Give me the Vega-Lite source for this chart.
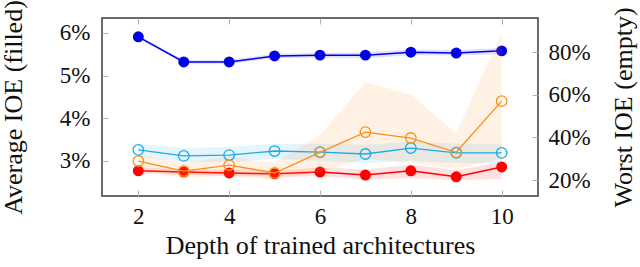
{
  "$schema": "https://vega.github.io/schema/vega-lite/v6.json",
  "autosize": {"type": "none"},
  "width": 436,
  "height": 178,
  "padding": {"left": 102, "top": 18, "right": 102, "bottom": 71},
  "background": "white",
  "config": {
    "view": {"stroke": "#3a3a3a", "strokeWidth": 1.5},
    "font": "Liberation Serif",
    "axis": {
      "grid": false,
      "domain": false,
      "labelFont": "Liberation Serif",
      "titleFont": "Liberation Serif",
      "labelFontSize": 23,
      "titleFontSize": 26,
      "titleFontWeight": "normal",
      "labelColor": "#111",
      "titleColor": "#111",
      "tickColor": "#b0b0b0",
      "tickWidth": 1,
      "tickSize": -6
    }
  },
  "datasets": {
    "d": [
      {"depth": 2, "series": "avgA", "v": 5.91, "lo": 5.87, "hi": 5.95},
      {"depth": 3, "series": "avgA", "v": 5.32, "lo": 5.28, "hi": 5.36},
      {"depth": 4, "series": "avgA", "v": 5.32, "lo": 5.28, "hi": 5.37},
      {"depth": 5, "series": "avgA", "v": 5.46, "lo": 5.41, "hi": 5.51},
      {"depth": 6, "series": "avgA", "v": 5.48, "lo": 5.42, "hi": 5.53},
      {"depth": 7, "series": "avgA", "v": 5.48, "lo": 5.41, "hi": 5.55},
      {"depth": 8, "series": "avgA", "v": 5.55, "lo": 5.48, "hi": 5.61},
      {"depth": 9, "series": "avgA", "v": 5.53, "lo": 5.47, "hi": 5.6},
      {"depth": 10, "series": "avgA", "v": 5.58, "lo": 5.5, "hi": 5.65},
      {"depth": 2, "series": "avgB", "v": 2.77, "lo": 2.71, "hi": 2.84},
      {"depth": 3, "series": "avgB", "v": 2.74, "lo": 2.68, "hi": 2.81},
      {"depth": 4, "series": "avgB", "v": 2.72, "lo": 2.65, "hi": 2.8},
      {"depth": 5, "series": "avgB", "v": 2.7, "lo": 2.63, "hi": 2.78},
      {"depth": 6, "series": "avgB", "v": 2.74, "lo": 2.64, "hi": 2.85},
      {"depth": 7, "series": "avgB", "v": 2.67, "lo": 2.56, "hi": 2.8},
      {"depth": 8, "series": "avgB", "v": 2.77, "lo": 2.6, "hi": 2.92},
      {"depth": 9, "series": "avgB", "v": 2.63, "lo": 2.55, "hi": 2.78},
      {"depth": 10, "series": "avgB", "v": 2.86, "lo": 2.58, "hi": 2.98},
      {"depth": 2, "series": "worstA", "v": 34.1, "lo": 31, "hi": 37},
      {"depth": 3, "series": "worstA", "v": 31.3, "lo": 28.5, "hi": 35},
      {"depth": 4, "series": "worstA", "v": 31.7, "lo": 28.5, "hi": 35.5},
      {"depth": 5, "series": "worstA", "v": 33.6, "lo": 30, "hi": 37},
      {"depth": 6, "series": "worstA", "v": 33.1, "lo": 29, "hi": 37},
      {"depth": 7, "series": "worstA", "v": 32.2, "lo": 28, "hi": 36.5},
      {"depth": 8, "series": "worstA", "v": 35.0, "lo": 29, "hi": 38},
      {"depth": 9, "series": "worstA", "v": 32.7, "lo": 28, "hi": 37},
      {"depth": 10, "series": "worstA", "v": 32.7, "lo": 28, "hi": 37},
      {"depth": 2, "series": "worstB", "v": 28.9, "lo": 25, "hi": 32},
      {"depth": 3, "series": "worstB", "v": 24.2, "lo": 21, "hi": 28},
      {"depth": 4, "series": "worstB", "v": 27.0, "lo": 22, "hi": 31},
      {"depth": 5, "series": "worstB", "v": 23.3, "lo": 20, "hi": 28},
      {"depth": 6, "series": "worstB", "v": 33.0, "lo": 24, "hi": 41},
      {"depth": 7, "series": "worstB", "v": 42.5, "lo": 30, "hi": 66},
      {"depth": 8, "series": "worstB", "v": 39.7, "lo": 28, "hi": 60},
      {"depth": 9, "series": "worstB", "v": 33.0, "lo": 25, "hi": 42},
      {"depth": 10, "series": "worstB", "v": 57.0, "lo": 30, "hi": 89}
    ]
  },
  "data": {"name": "d"},
  "encoding": {
    "color": {
      "field": "series",
      "type": "nominal",
      "scale": {"domain": ["avgA", "avgB", "worstA", "worstB"], "range": ["#0000e6", "#ff0000", "#1eaae6", "#ff8c1e"]},
      "legend": null
    }
  },
  "layer": [
    {
      "transform": [{"filter": "datum.series === 'avgA' || datum.series === 'avgB'"}],
      "encoding": {
        "x": {
          "field": "depth",
          "type": "quantitative",
          "scale": {"domain": [1.2, 10.8], "nice": false, "zero": false},
          "axis": {"orient": "bottom", "values": [2, 4, 6, 8, 10], "title": "Depth of trained architectures", "labelPadding": 15, "titlePadding": 4}
        },
        "y": {
          "field": "v",
          "type": "quantitative",
          "scale": {"domain": [2.18, 6.35], "nice": false, "zero": false},
          "axis": {"orient": "left", "values": [3, 4, 5, 6], "labelExpr": "datum.value + '%'", "title": "Average IOE (filled)", "labelPadding": 18, "titlePadding": 33}
        }
      },
      "layer": [
        {"mark": {"type": "area", "opacity": 0.12}, "encoding": {"y": {"field": "lo", "type": "quantitative"}, "y2": {"field": "hi"}}},
        {"mark": {"type": "line", "strokeWidth": 1.5}},
        {"mark": {"type": "point", "filled": true, "opacity": 1, "size": 120}}
      ]
    },
    {
      "transform": [{"filter": "datum.series === 'worstA' || datum.series === 'worstB'"}],
      "encoding": {
        "x": {
          "field": "depth",
          "type": "quantitative",
          "scale": {"domain": [1.2, 10.8], "nice": false, "zero": false},
          "axis": {"orient": "top", "values": [2, 4, 6, 8, 10], "labels": false, "title": null}
        },
        "y": {
          "field": "v",
          "type": "quantitative",
          "scale": {"domain": [12.5, 96], "nice": false, "zero": false},
          "axis": {"orient": "right", "values": [20, 40, 60, 80], "labelExpr": "datum.value + '%'", "title": "Worst IOE (empty)", "titleAngle": 270, "labelPadding": 16, "titlePadding": 46}
        }
      },
      "layer": [
        {"mark": {"type": "area", "opacity": 0.12}, "encoding": {"y": {"field": "lo", "type": "quantitative"}, "y2": {"field": "hi"}}},
        {"mark": {"type": "line", "strokeWidth": 1.3}},
        {"mark": {"type": "point", "filled": false, "opacity": 1, "size": 110, "strokeWidth": 1.3}}
      ]
    }
  ],
  "resolve": {"scale": {"y": "independent"}, "axis": {"x": "independent"}}
}
